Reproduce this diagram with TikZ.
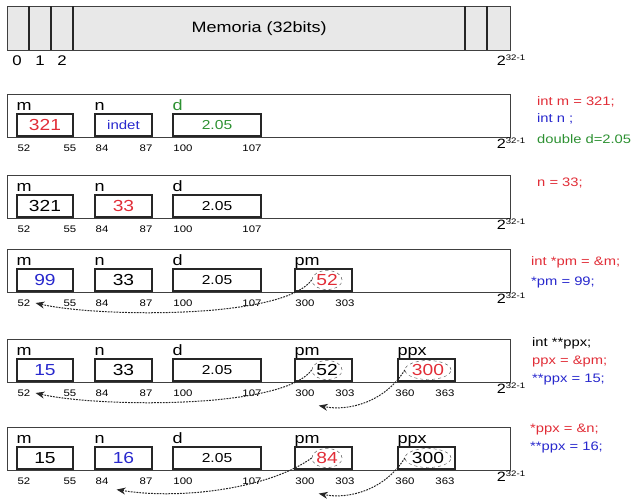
\documentclass[tikz,border=0pt]{standalone}
\usepackage{fontspec}
\setmainfont{Liberation Sans}[FakeStretch=1.2]
\usetikzlibrary{arrows.meta,positioning,shapes.geometric}

\definecolor{cred}{RGB}{225,45,55}
\definecolor{cblue}{RGB}{40,40,205}
\definecolor{cgreen}{RGB}{45,145,50}
\definecolor{memgray}{RGB}{232,232,232}

\newcommand\maxaddr{{\fontsize{13.5}{14}\selectfont 2}\raisebox{4.5pt}{\fontsize{8}{8}\selectfont 32-1}}

\begin{document}
\begin{tikzpicture}[
    x=1pt, y=-1pt,
    rowbox/.style={draw=black!75, line width=1.3pt, minimum height=43pt, minimum width=503pt, anchor=north west, inner sep=0pt},
    cell/.style={draw=black!85, line width=1.1pt, minimum height=22pt, inner sep=0pt, font=\fontsize{16}{16}\selectfont},
    lbl/.style={anchor=base west, inner sep=0pt, font=\fontsize{15}{15}\selectfont},
    addr/.style={inner sep=0pt, font=\fontsize{9.5}{10}\selectfont},
    code/.style={anchor=west, inner sep=0pt, font=\fontsize{12.3}{13}\selectfont},
    ring/.style={ellipse, draw=black!75, dashed, inner sep=0pt, minimum height=19pt, font=\fontsize{16}{16}\selectfont},
    ptr/.style={draw=black!85, line width=1pt, dash pattern=on 1.8pt off 1.1pt, -{Stealth[length=9pt,width=7pt]}},
  ]
  \useasboundingbox (0,0) rectangle (634,498);

  % memory bar
  \node[draw=black!75, line width=1.3pt, fill=memgray, anchor=north west, minimum width=503pt, minimum height=44pt,
        font=\fontsize{15}{15}\selectfont] (mem) at (7,6) {Memoria (32bits)};
  \foreach \x in {29,51,73,465,487}
    \draw[black!85, line width=1.1pt] (\x,6) -- (\x,50);
  \foreach \i/\x in {0/17,1/40,2/62}
    \node[font=\fontsize{14}{14}\selectfont, inner sep=0pt] (b\i) at (\x,61) {\i};
  \node[inner sep=0pt] (btop) at (511,60) {\maxaddr};

  % rows
  \foreach \r/\t/\dc/\mc/\mv/\nc/\nv in {
      1/94/cgreen/cred/321/cblue/{\fontsize{12.5}{13}\selectfont indet},
      2/175/black/black/321/cred/33,
      3/249/black/cblue/99/black/33,
      4/339/black/cblue/15/black/33,
      5/427/black/black/15/cblue/16}{
    \node[rowbox] (f\r) at (7,\t) {};
    \node[cell, minimum width=56pt, text=\mc] (m\r) at (45,\t+31) {\mv};
    \node[cell, minimum width=57pt, text=\nc] (n\r) at (123.5,\t+31) {\nv};
    \node[cell, minimum width=88pt, text=\dc, font=\fontsize{13}{13}\selectfont] (d\r) at (217,\t+31) {2.05};
    \node[lbl] (lm\r) at ([yshift=3pt]m\r.north west) {m};
    \node[lbl] (ln\r) at ([yshift=3pt]n\r.north west) {n};
    \node[lbl, text=\dc] (ld\r) at ([yshift=3pt]d\r.north west) {d};
    \foreach \a/\x in {52/24,55/70,84/102,87/146,100/183,107/252}
      \node[addr] (a\r-\a) at (\x,\t+54) {\a};
    \node[inner sep=0pt] (top\r) at (511,\t+49) {\maxaddr};
  }

  % pointers
  \foreach \r/\t in {3/249,4/339,5/427}{
    \node[cell, minimum width=57pt] (pm\r) at (323.5,\t+31) {};
    \node[lbl] (lpm\r) at ([yshift=3pt]pm\r.north west) {pm};
    \node[addr] (a\r-300) at (305,\t+54) {300};
    \node[addr] (a\r-303) at (345,\t+54) {303};
  }
  \foreach \r/\t in {4/339,5/427}{
    \node[cell, minimum width=57pt] (ppx\r) at (426.5,\t+31) {};
    \node[lbl] (lppx\r) at ([yshift=3pt]ppx\r.north west) {ppx};
    \node[addr] (a\r-360) at (405,\t+54) {360};
    \node[addr] (a\r-363) at (445,\t+54) {363};
  }

  \node[ring, minimum width=30pt, text=cred] (v3) at (327,280) {52};
  \node[ring, minimum width=30pt] (v4) at (327,370) {52};
  \node[ring, minimum width=30pt, text=cred] (v5) at (327,458) {84};
  \node[ring, minimum width=46pt, text=cred] (w4) at (428,370) {300};
  \node[ring, minimum width=46pt] (w5) at (428,458) {300};

  \draw[ptr] (v3.west) .. controls +(-30,40) and +(60,14) .. ([xshift=5pt]a3-52.east);
  \draw[ptr] (v4.west) .. controls +(-30,40) and +(60,14) .. ([xshift=5pt]a4-52.east);
  \draw[ptr] (w4.west) .. controls +(-20,32) and +(30,6) .. ([xshift=4pt,yshift=-9pt]a4-300.south east);
  \draw[ptr] (v5.west) .. controls +(-45,32) and +(60,10) .. ([xshift=8pt,yshift=-5pt]a5-84.south east);
  \draw[ptr] (w5.west) .. controls +(-20,32) and +(30,6) .. ([xshift=4pt,yshift=-9pt]a5-300.south east);

  % code
  \node[code, cred]   (c1a) at (537,102) {int m = 321;};
  \node[code, cblue]  (c1b) at (537,119) {int n ;};
  \node[code, cgreen] (c1c) at (537,139) {double d=2.05};
  \node[code, cred]   (c2a) at (537,183) {n = 33;};
  \node[code, cred]   (c3a) at (531,262) {int *pm = \&m;};
  \node[code, cblue]  (c3b) at (531,282) {*pm = 99;};
  \node[code]         (c4a) at (532,343) {int **ppx;};
  \node[code, cred]   (c4b) at (532,362) {ppx = \&pm;};
  \node[code, cblue]  (c4c) at (532,380) {**ppx = 15;};
  \node[code, cred]   (c5a) at (530,430) {*ppx = \&n;};
  \node[code, cblue]  (c5b) at (530,447) {**ppx = 16;};
\end{tikzpicture}
\end{document}
